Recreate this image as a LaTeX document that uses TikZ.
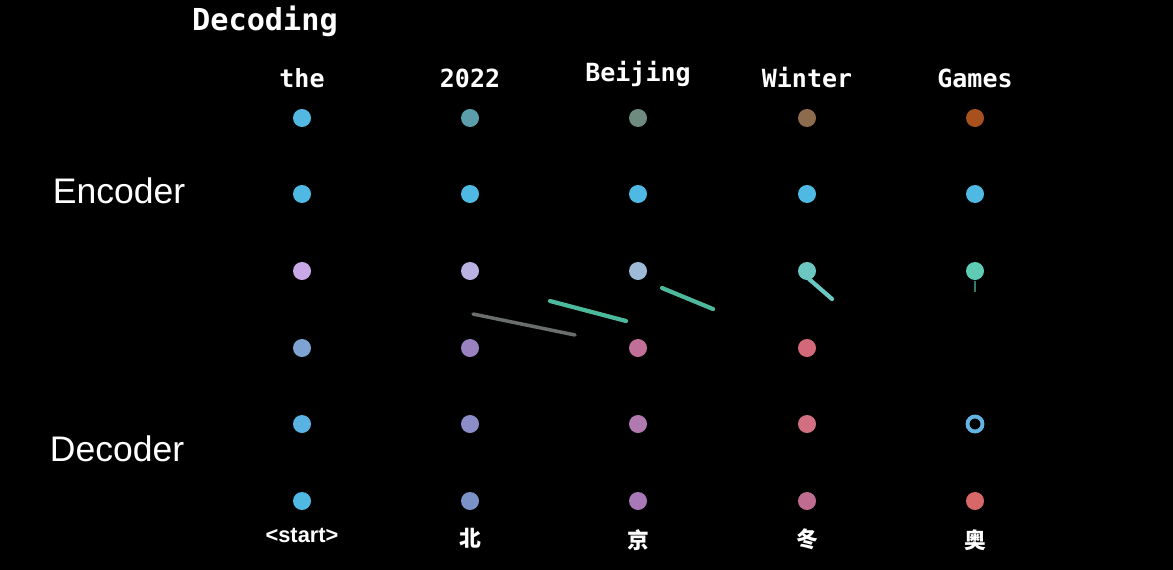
\documentclass[tikz,border=0pt]{standalone}
\usepackage{fontspec}
\setmainfont{Liberation Sans}
\newfontfamily\monof{DejaVu Sans Mono}
\newfontfamily\cjkf{Noto Sans CJK SC}
\begin{document}
\begin{tikzpicture}[x=0.01cm,y=-0.01cm,
  dot/.style={circle,inner sep=0pt,minimum size=0.18cm,fill=#1},
  tok/.style={text=white,font=\monof\fontsize{7.1pt}{8pt}\selectfont\bfseries,anchor=base},
  side/.style={text=white,font=\fontsize{10.1pt}{12pt}\selectfont},
  bot/.style={text=white,font=\cjkf\fontsize{6.2pt}{7pt}\selectfont\bfseries}]
\fill[black] (0,0) rectangle (1173,570);
\useasboundingbox (0,0) rectangle (1173,570);
\node[text=white,font=\monof\fontsize{8.6pt}{10pt}\selectfont\bfseries,anchor=base] (title) at (265,31) {Decoding};
\node[tok] (t1) at (302,88) {the};
\node[tok] (t2) at (470,88) {2022};
\node[tok] (t3) at (638,82) {Beijing};
\node[tok] (t4) at (807,88) {Winter};
\node[tok] (t5) at (975,88) {Games};
\node[side] (enc) at (119,191) {Encoder};
\node[side] (dec) at (117,449) {Decoder};
% row 1
\definecolor{r1a}{HTML}{52B8E2}\definecolor{r1b}{HTML}{5C9DAC}\definecolor{r1c}{HTML}{6F8A7E}
\definecolor{r1d}{HTML}{8C6C4C}\definecolor{r1e}{HTML}{A8501E}
\node[dot=r1a] (a1) at (302,118) {};
\node[dot=r1b] (b1) at (470,118) {};
\node[dot=r1c] (c1) at (638,118) {};
\node[dot=r1d] (d1) at (807,118) {};
\node[dot=r1e] (e1) at (975,118) {};
% row 2
\definecolor{sky}{HTML}{4FB9E4}
\foreach \x/\n in {302/a,470/b,638/c,807/d,975/e}{\node[dot=sky] (\n2) at (\x,194) {};}
% row 3
\definecolor{r3a}{HTML}{C8A8E6}\definecolor{r3b}{HTML}{B9B2E2}\definecolor{r3c}{HTML}{9DBAD8}
\definecolor{r3d}{HTML}{6CC6C2}\definecolor{r3e}{HTML}{5ECBB2}
\node[dot=r3a] (a3) at (302,271) {};
\node[dot=r3b] (b3) at (470,271) {};
\node[dot=r3c] (c3) at (638,271) {};
\node[dot=r3d] (d3) at (807,271) {};
\node[dot=r3e] (e3) at (975,271) {};
% row 4
\definecolor{r4a}{HTML}{7EA2D2}\definecolor{r4b}{HTML}{9A82C0}\definecolor{r4c}{HTML}{C07098}
\definecolor{r4d}{HTML}{D2687A}
\node[dot=r4a] (a4) at (302,348) {};
\node[dot=r4b] (b4) at (470,348) {};
\node[dot=r4c] (c4) at (638,348) {};
\node[dot=r4d] (d4) at (807,348) {};
% row 5
\definecolor{r5a}{HTML}{5AB2E2}\definecolor{r5b}{HTML}{8C8CC8}\definecolor{r5c}{HTML}{B07AB0}
\definecolor{r5d}{HTML}{D07080}\definecolor{ring}{HTML}{62B4E4}
\node[dot=r5a] (a5) at (302,424) {};
\node[dot=r5b] (b5) at (470,424) {};
\node[dot=r5c] (c5) at (638,424) {};
\node[dot=r5d] (d5) at (807,424) {};
\node[circle,inner sep=0pt,minimum size=0.15cm,draw=ring,line width=1.1pt] (e5) at (975,424) {};
% row 6
\definecolor{r6b}{HTML}{7A92C8}\definecolor{r6c}{HTML}{A878B8}
\definecolor{r6d}{HTML}{C06C90}\definecolor{r6e}{HTML}{D86868}
\node[dot=sky] (a6) at (302,501) {};
\node[dot=r6b] (b6) at (470,501) {};
\node[dot=r6c] (c6) at (638,501) {};
\node[dot=r6d] (d6) at (807,501) {};
\node[dot=r6e] (e6) at (975,501) {};
% bottom labels
\node[bot,font=\fontsize{6.2pt}{7pt}\selectfont\bfseries] (s1) at (302,535) {<start>};
\node[bot] (s2) at (470,538) {北};
\node[bot] (s3) at (638,540) {京};
\node[bot] (s4) at (807,539) {冬};
\node[bot] (s5) at (975,540) {奥};
% transient lines
\definecolor{tealline}{HTML}{4CB89C}
\definecolor{grayline}{HTML}{6A6E6C}
\coordinate (g1) at (473,314); \coordinate (g2) at (575,335);
\coordinate (h1) at (550,301); \coordinate (h2) at (626,321);
\coordinate (k1) at (662,288); \coordinate (k2) at (713,309);
\coordinate (m1) at (809,279); \coordinate (m2) at (832,299);
\coordinate (n2) at (975,292);
\draw[grayline,line width=1pt,line cap=round] (g1) -- (g2);
\draw[tealline,line width=1.2pt,line cap=round] (h1) -- (h2);
\draw[tealline,line width=1.2pt,line cap=round] (k1) -- (k2);
\draw[r3d,line width=1.2pt,line cap=round] (m1) -- (m2);
\draw[r3e!60!black,line width=0.8pt] (e3.south) -- (n2);
\end{tikzpicture}
\end{document}
